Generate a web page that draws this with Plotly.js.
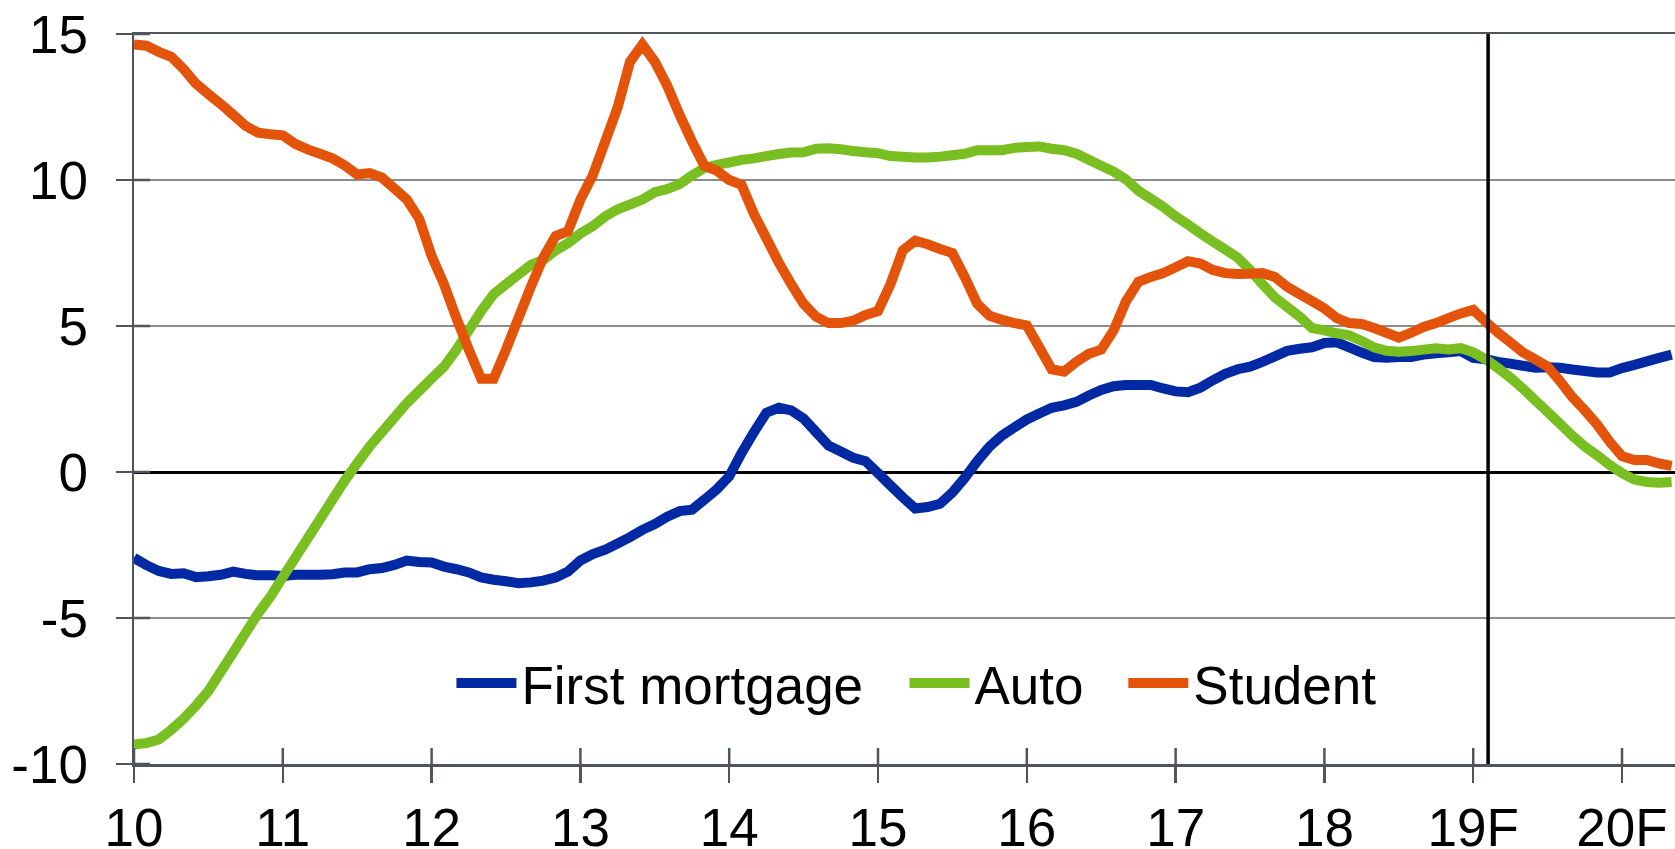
<!DOCTYPE html>
<html>
<head>
<meta charset="utf-8">
<script src="https://cdn.plot.ly/plotly-3.0.1.min.js"></script>
<style>
html, body { margin: 0; padding: 0; background: #ffffff; }
#chart { width: 1675px; height: 849px; }
</style>
</head>
<body>
<div id="chart"></div>
<script>
// Monthly data, Jan 2010 .. May 2020 (year fraction on the x axis)
const startYear = 10;

const firstMortgage = [
  -2.94, -3.19, -3.39, -3.49, -3.47, -3.60, -3.57, -3.52, -3.41, -3.49, -3.54, -3.54,
  -3.56, -3.52, -3.52, -3.52, -3.50, -3.44, -3.44, -3.33, -3.29, -3.18, -3.03, -3.08,
  -3.10, -3.24, -3.33, -3.44, -3.61, -3.69, -3.74, -3.81, -3.78, -3.72, -3.61, -3.41,
  -3.03, -2.81, -2.66, -2.45, -2.23, -1.98, -1.78, -1.53, -1.34, -1.29, -0.95, -0.59,
  -0.15,  0.65,  1.37,  2.03,  2.20,  2.11,  1.83,  1.37,  0.91,  0.70,  0.49,  0.37,
  -0.04, -0.46, -0.87, -1.25, -1.20, -1.09, -0.70, -0.20,  0.37,  0.87,  1.25,  1.53,
   1.80,  2.00,  2.20,  2.28,  2.40,  2.62,  2.81,  2.94,  2.98,  2.98,  2.98,  2.86,
   2.76,  2.73,  2.89,  3.14,  3.36,  3.52,  3.61,  3.77,  3.96,  4.15,  4.22,  4.27,
   4.42,  4.44,  4.27,  4.09,  3.94,  3.91,  3.94,  3.94,  4.02,  4.07,  4.10,  4.14,
   3.91,  3.86,  3.77,  3.71,  3.64,  3.57,  3.59,  3.57,  3.51,  3.46,  3.41,  3.41,
   3.56,  3.67,  3.79,  3.91,  4.02
];

const auto = [
  -9.33, -9.28, -9.16, -8.83, -8.45, -8.00, -7.50, -6.84, -6.18, -5.51, -4.85, -4.27,
  -3.60, -2.94, -2.28, -1.62, -0.95, -0.29,  0.30,  0.87,  1.37,  1.87,  2.36,  2.78,
   3.20,  3.61,  4.19,  4.85,  5.51,  6.09,  6.43,  6.76,  7.09,  7.26,  7.59,  7.84,
   8.17,  8.42,  8.75,  9.00,  9.16,  9.33,  9.58,  9.69,  9.86, 10.16, 10.41, 10.52,
  10.60, 10.69, 10.74, 10.82, 10.89, 10.94, 10.95, 11.07, 11.09, 11.05, 10.99, 10.95,
  10.92, 10.82, 10.80, 10.77, 10.77, 10.80, 10.85, 10.90, 11.02, 11.02, 11.02, 11.10,
  11.13, 11.15, 11.07, 11.02, 10.90, 10.69, 10.49, 10.29, 10.02,  9.63,  9.36,  9.08,
   8.75,  8.47,  8.17,  7.89,  7.62,  7.34,  6.92,  6.43,  5.98,  5.65,  5.32,  4.93,
   4.85,  4.75,  4.68,  4.49,  4.27,  4.15,  4.12,  4.14,  4.19,  4.24,  4.20,  4.24,
   4.10,  3.86,  3.56,  3.23,  2.86,  2.45,  2.06,  1.65,  1.24,  0.87,  0.57,  0.24,
  -0.04, -0.26, -0.34, -0.37, -0.34
];

const student = [
  14.64, 14.60, 14.39, 14.22, 13.80, 13.30, 12.94, 12.60, 12.23, 11.85, 11.62, 11.57,
  11.53, 11.24, 11.05, 10.90, 10.74, 10.50, 10.19, 10.24, 10.08,  9.71,  9.33,  8.67,
   7.40,  6.43,  5.27,  4.19,  3.19,  3.19,  4.19,  5.27,  6.34,  7.34,  8.08,  8.25,
   9.33, 10.16, 11.32, 12.48, 14.05, 14.64, 14.05, 13.23, 12.23, 11.32, 10.49, 10.32,
  10.00,  9.83,  8.83,  8.00,  7.17,  6.43,  5.76,  5.32,  5.10,  5.10,  5.18,  5.38,
   5.51,  6.43,  7.59,  7.92,  7.80,  7.64,  7.50,  6.67,  5.76,  5.35,  5.21,  5.10,
   5.02,  4.27,  3.52,  3.44,  3.77,  4.05,  4.19,  4.85,  5.85,  6.51,  6.68,  6.81,
   7.01,  7.22,  7.14,  6.92,  6.81,  6.78,  6.79,  6.81,  6.68,  6.34,  6.09,  5.85,
   5.60,  5.27,  5.10,  5.07,  4.93,  4.77,  4.60,  4.77,  4.97,  5.10,  5.27,  5.43,
   5.55,  5.15,  4.77,  4.44,  4.10,  3.86,  3.61,  3.11,  2.56,  2.11,  1.62,  1.04,
   0.54,  0.41,  0.41,  0.29,  0.21
];

const seriesNames = ['First mortgage', 'Auto', 'Student'];
const seriesColors = ['#0029a3', '#79bf21', '#e3540a'];

const xTickVals = [10, 11, 12, 13, 14, 15, 16, 17, 18, 19, 20];
const xTickText = ['10', '11', '12', '13', '14', '15', '16', '17', '18', '19F', '20F'];
const yTickVals = [-10, -5, 0, 5, 10, 15];
const yTickText = ['-10', '-5', '0', '5', '10', '15'];
const forecastStart = 19.1;

const months = firstMortgage.map((_, i) => startYear + i / 12);

const FONT = 'Liberation Sans, Arial, Helvetica, sans-serif';
const AXIS_COLOR = '#50555b';
const FS = 53;

const seriesData = [firstMortgage, auto, student];
const legendIds = ['legend', 'legend2', 'legend3'];
const traces = seriesData.map((ys, k) => ({
  type: 'scatter',
  mode: 'lines',
  name: seriesNames[k],
  x: months,
  y: ys,
  line: { color: seriesColors[k], width: 10, simplify: false },
  legend: legendIds[k],
  hoverinfo: 'skip'
}));

const shapes = [];
// Forecast divider
shapes.push({
  type: 'line', xref: 'x', yref: 'paper', x0: forecastStart, x1: forecastStart, y0: 0, y1: 1,
  line: { color: '#000000', width: 3.5 }, layer: 'above'
});
// Inner halves of crossing tick marks
xTickVals.forEach(v => shapes.push({
  type: 'line', xref: 'x', yref: 'paper', ysizemode: 'pixel', yanchor: 0,
  x0: v, x1: v, y0: 0, y1: 16, line: { color: AXIS_COLOR, width: 2.5 }, layer: 'above'
}));
yTickVals.forEach(v => shapes.push({
  type: 'line', xref: 'paper', yref: 'y', xsizemode: 'pixel', xanchor: 0,
  x0: 0, x1: 16, y0: v, y1: v, line: { color: AXIS_COLOR, width: 2.5 }, layer: 'above'
}));

const legendBase = {
  orientation: 'h', yanchor: 'middle', y: 0.111, xanchor: 'left',
  bgcolor: 'rgba(0,0,0,0)', borderwidth: 0,
  font: { family: FONT, size: FS, color: '#000000' },
  itemwidth: 60
};

const layout = {
  width: 1675, height: 849,
  autosize: false,
  margin: { l: 134, r: 0, t: 34, b: 85, pad: 0 },
  paper_bgcolor: '#ffffff',
  plot_bgcolor: '#ffffff',
  font: { family: FONT, size: FS, color: '#000000' },
  showlegend: true,
  legend: Object.assign({}, legendBase, { x: 0.206 }),
  legend2: Object.assign({}, legendBase, { x: 0.5 }),
  legend3: Object.assign({}, legendBase, { x: 0.642 }),
  xaxis: {
    range: [10, 20.356],
    tickmode: 'array', tickvals: xTickVals, ticktext: xTickText,
    ticks: 'outside', ticklen: 16, tickwidth: 2.5, tickcolor: AXIS_COLOR,
    ticklabelstandoff: 0,
    showline: true, linecolor: AXIS_COLOR, linewidth: 2.5, mirror: true,
    showgrid: false, zeroline: false,
    tickfont: { family: FONT, size: FS, color: '#000000' },
    fixedrange: true
  },
  yaxis: {
    range: [-10, 15],
    tickmode: 'array', tickvals: yTickVals, ticktext: yTickText,
    ticks: 'outside', ticklen: 16, tickwidth: 2.5, tickcolor: AXIS_COLOR,
    ticklabelstandoff: 17,
    showline: true, linecolor: AXIS_COLOR, linewidth: 2.5,
    showgrid: true, gridcolor: '#8c8c8c', gridwidth: 2,
    zeroline: true, zerolinecolor: '#000000', zerolinewidth: 3,
    tickfont: { family: FONT, size: FS, color: '#000000' },
    fixedrange: true
  },
  shapes: shapes
};

Plotly.newPlot('chart', traces, layout, { displayModeBar: false, staticPlot: true });
</script>
</body>
</html>
